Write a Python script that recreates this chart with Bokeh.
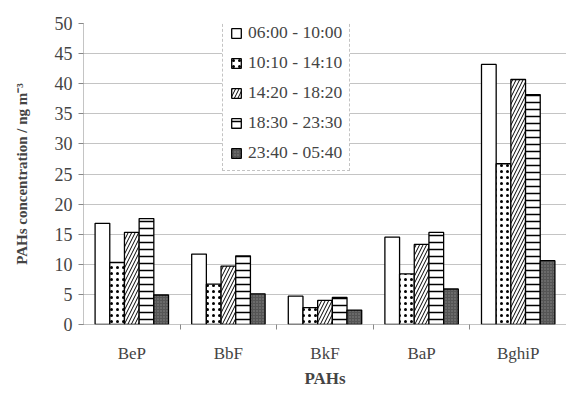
import numpy as np
from bokeh.plotting import figure
from bokeh.models import FixedTicker, Range1d, Legend, LegendItem
from bokeh.embed import file_html
from bokeh.resources import INLINE

categories = ["BeP", "BbF", "BkF", "BaP", "BghiP"]
series_names = ["06:00 - 10:00", "10:10 - 14:10", "14:20 - 18:20", "18:30 - 23:30", "23:40 - 05:40"]
v_0600 = [16.8, 11.7, 4.7, 14.5, 43.2]
v_1010 = [10.3, 6.7, 2.8, 8.4, 26.7]
v_1420 = [15.3, 9.7, 4.0, 13.3, 40.7]
v_1830 = [17.6, 11.4, 4.5, 15.3, 38.2]
v_2340 = [4.9, 5.1, 2.4, 5.9, 10.6]
y_ticks = [0, 5, 10, 15, 20, 25, 30, 35, 40, 45, 50]

series_values = [v_0600, v_1010, v_1420, v_1830, v_2340]
styles = [
    dict(fill_color="white"),
    dict(fill_color="white", hatch_pattern="dot", hatch_color="black", hatch_scale=6, hatch_weight=1),
    dict(fill_color="white", hatch_pattern="right_diagonal_line", hatch_color="black", hatch_scale=7, hatch_weight=1),
    dict(fill_color="white", hatch_pattern="horizontal_line", hatch_color="black", hatch_scale=7, hatch_weight=1.5),
    dict(fill_color="#555555", hatch_pattern="dot", hatch_color="#8a8a8a", hatch_scale=3, hatch_weight=1),
]

FONT = "Liberation Serif"

p = figure(width=566, height=390, output_backend="svg", toolbar_location=None,
           x_range=Range1d(0, len(categories)), y_range=Range1d(0, 50))
p.min_border_left = 83
p.min_border_top = 23
p.min_border_bottom = 63
p.min_border_right = 0
p.outline_line_color = None
p.background_fill_color = "white"

n = len(series_values)
bw = 0.152
offsets = (np.arange(n) - (n - 1) / 2) * bw
centers = np.arange(len(categories)) + 0.5

items = []
for i, (vals, name, st) in enumerate(zip(series_values, series_names, styles)):
    r = p.vbar(x=centers + offsets[i], top=vals, bottom=0, width=bw,
               line_color="black", line_width=1.3, **st)
    items.append(LegendItem(label=name, renderers=[r]))

# y axis
p.yaxis.ticker = FixedTicker(ticks=y_ticks)
p.yaxis.axis_label = "PAHs concentration / ng m\u207b\u00b3"
p.yaxis.axis_label_text_font = FONT
p.yaxis.axis_label_text_font_style = "bold"
p.yaxis.axis_label_text_font_size = "15px"
p.yaxis.axis_label_standoff = 22
p.yaxis.major_label_text_font = FONT
p.yaxis.major_label_text_font_size = "18px"
p.yaxis.major_label_standoff = 6
p.yaxis.axis_line_color = "#888888"
p.yaxis.axis_line_dash = "1 1"
p.yaxis.major_tick_line_color = "#888888"
p.yaxis.major_tick_out = 5
p.yaxis.major_tick_in = 0
p.yaxis.minor_tick_line_color = None

# x axis
p.xaxis.ticker = FixedTicker(ticks=list(centers), minor_ticks=list(np.arange(1, len(categories))))
p.xaxis.major_label_overrides = {float(c): cat for c, cat in zip(centers, categories)}
p.xaxis.major_label_text_font = FONT
p.xaxis.major_label_text_font_size = "17px"
p.xaxis.major_label_standoff = 14
p.xaxis.major_tick_line_color = None
p.xaxis.major_tick_out = 5
p.xaxis.minor_tick_line_color = "#888888"
p.xaxis.minor_tick_out = 5
p.xaxis.minor_tick_in = 0
p.xaxis.axis_line_color = "#888888"
p.xaxis.axis_line_dash = "1 1"
p.xaxis.axis_label = "PAHs"
p.xaxis.axis_label_text_font = FONT
p.xaxis.axis_label_text_font_style = "bold"
p.xaxis.axis_label_text_font_size = "17px"
p.xaxis.axis_label_standoff = 3

p.xgrid.grid_line_color = None
p.ygrid.ticker = FixedTicker(ticks=y_ticks)
p.ygrid.grid_line_color = "#888888"
p.ygrid.grid_line_dash = "1 1"
p.ygrid.grid_line_width = 1

legend = Legend(items=items, location=(139, 153))
legend.label_text_font = FONT
legend.label_text_font_size = "17.5px"
legend.glyph_width = 12
legend.glyph_height = 12
legend.label_height = 20
legend.label_standoff = 6
legend.spacing = 9
legend.padding = 7
legend.margin = 0
legend.border_line_color = "#888888"
legend.border_line_dash = "1 1"
legend.background_fill_color = "white"
legend.background_fill_alpha = 1
p.add_layout(legend, "center")

open("out.html", "w").write(file_html(p, INLINE))
